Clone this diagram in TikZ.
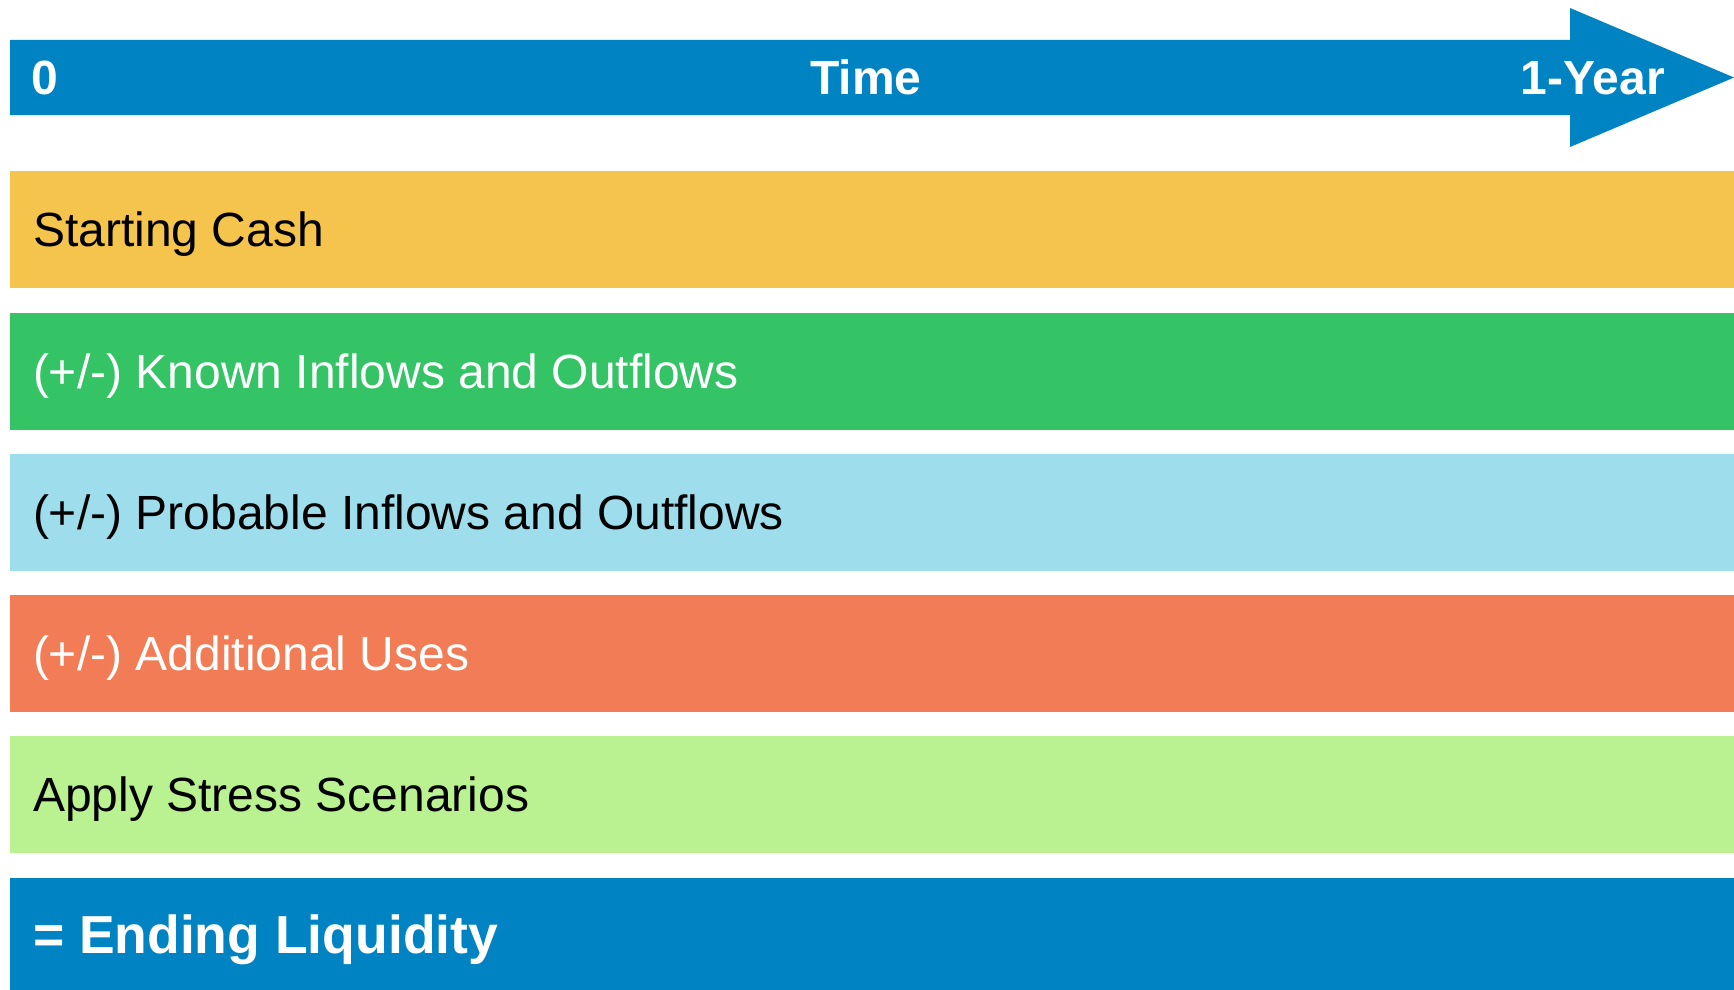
\documentclass[tikz,border=0pt]{standalone}
\usepackage{fontspec}
\setmainfont{Liberation Sans}
\usetikzlibrary{positioning}

\definecolor{timeblue}{RGB}{0,131,195}
\definecolor{cashyellow}{RGB}{244,196,76}
\definecolor{knowngreen}{RGB}{52,196,102}
\definecolor{probblue}{RGB}{158,222,236}
\definecolor{addorange}{RGB}{242,124,85}
\definecolor{stressgreen}{RGB}{186,242,145}

\tikzset{
  band/.style={minimum width=1724pt, minimum height=117pt, inner sep=0pt},
  bandtext/.style={anchor=west, inner sep=0pt, text height=44.6pt, text depth=10.3pt,
    font=\fontsize{48}{56}\selectfont},
  timelabel/.style={text=white, inner sep=0pt, text height=44.6pt, text depth=10.3pt,
    font=\fontsize{48}{56}\selectfont\bfseries}
}

\begin{document}
\begin{tikzpicture}[x=1pt,y=-1pt]
\useasboundingbox (0,0) rectangle (1734,990);

% time arrow
\fill[timeblue] (10,40) -- (1570,40) -- (1570,8) -- (1734,77.5) -- (1570,147) -- (1570,115) -- (10,115) -- cycle;
\node[timelabel, anchor=west] (start) at (31,77.5) {0};
\node[timelabel] (time) at (866,77.5) {Time};
\node[timelabel, anchor=east] (year) at (1665,77.5) {1-Year};

% bands
\node[band, fill=cashyellow] (cash) at (872,229.5) {};
\node[band, fill=knowngreen] (known) at (872,371) {};
\node[band, fill=probblue] (probable) at (872,512) {};
\node[band, fill=addorange] (uses) at (872,653) {};
\node[band, fill=stressgreen] (stress) at (872,794.5) {};
\node[band, fill=timeblue, minimum height=112pt] (ending) at (872,934) {};

% band texts
\node[bandtext, right=23pt of cash.west, text=black] (cashtext) {Starting Cash};
\node[bandtext, right=23pt of known.west, text=white] (knowntext) {(+/-) Known Inflows and Outflows};
\node[bandtext, right=23pt of probable.west, text=black] (probabletext) {(+/-) Probable Inflows and Outflows};
\node[bandtext, right=23pt of uses.west, text=white] (usestext) {(+/-) Additional Uses};
\node[bandtext, right=23pt of stress.west, text=black] (stresstext) {Apply Stress Scenarios};
\node[bandtext, right=23pt of ending.west, text=white, text height=49.6pt, text depth=11.5pt,
  font=\fontsize{53.5}{60}\selectfont\bfseries] (endingtext) {= Ending Liquidity};

\end{tikzpicture}
\end{document}
